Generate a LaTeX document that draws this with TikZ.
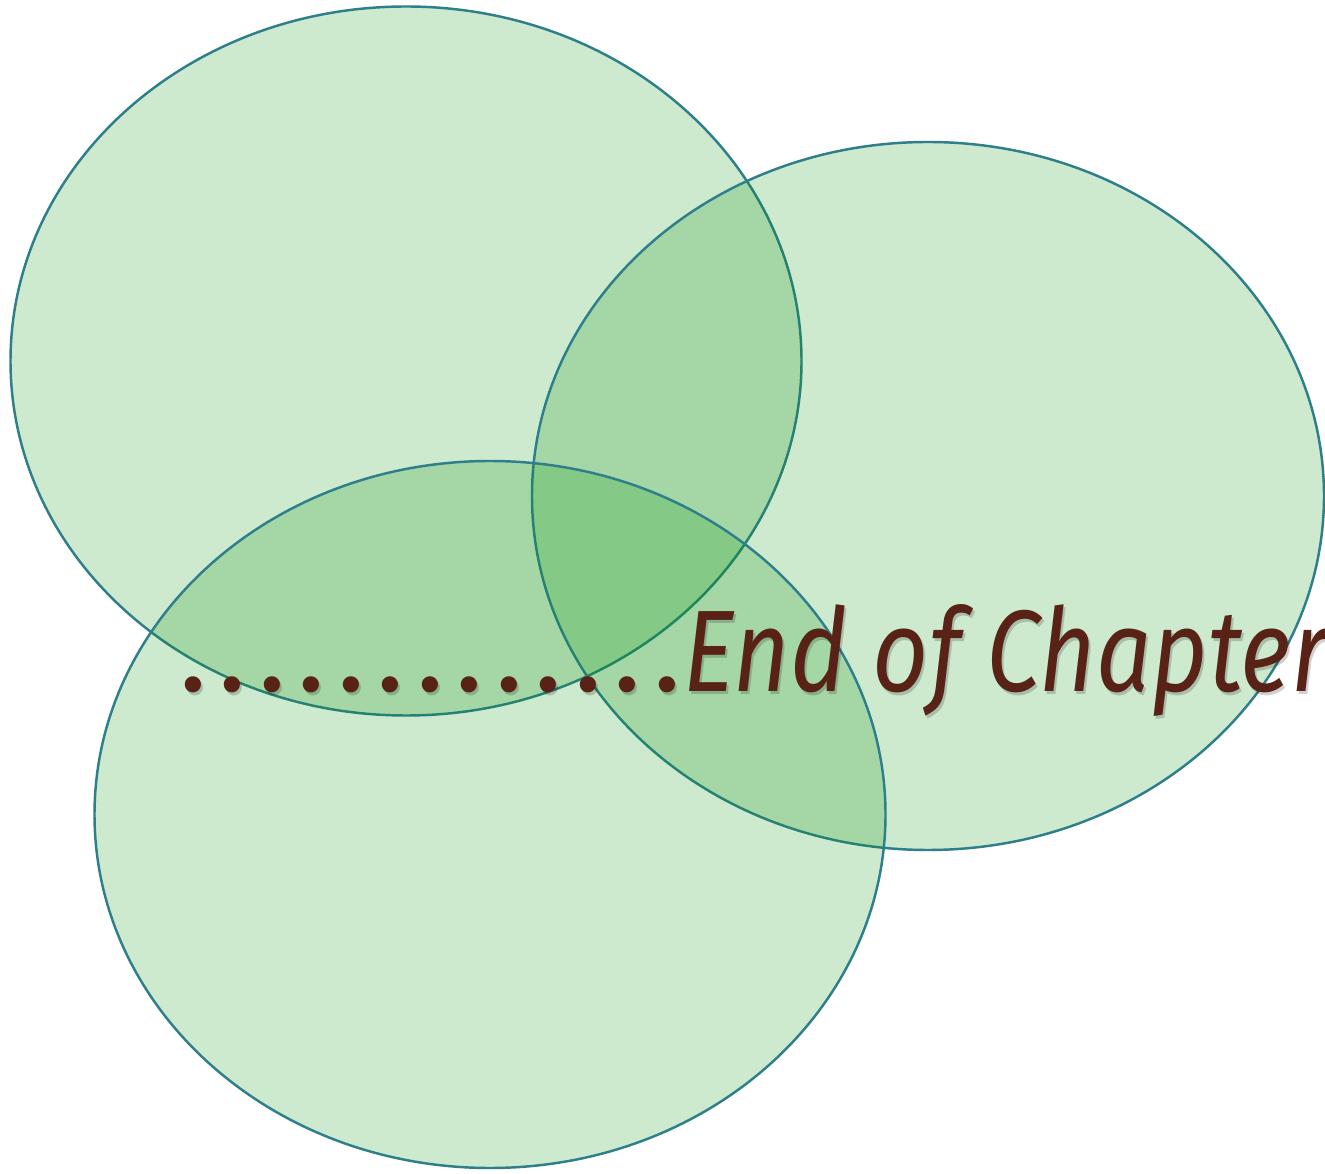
\documentclass[tikz,border=0pt]{standalone}
\usepackage{fontspec}
\usepackage{tikz}
\usetikzlibrary{positioning}
\newfontfamily\chapfont{Fira Sans}
\definecolor{vennfill}{RGB}{5,145,10}
\definecolor{vennline}{HTML}{2E7F8C}
\definecolor{chapbrown}{HTML}{582216}
\tikzset{
  vennset/.style={draw=vennline, line width=1.4pt, fill=vennfill,
    fill opacity=0.2, draw opacity=1},
  chaptext/.style={inner sep=0pt, anchor=base west, text=chapbrown,
    font=\chapfont\itshape\fontsize{66}{66}\selectfont, xscale=0.84},
  dotmark/.style={inner sep=0pt, anchor=base, text=chapbrown,
    font=\chapfont\fontsize{66}{66}\selectfont},
  ghost/.style={text=black, text opacity=0.18}
}
\begin{document}
\begin{tikzpicture}[x=1cm,y=1cm]
  \useasboundingbox (0,0) rectangle (26.5,23.46);
  \fill[white] (0,0) rectangle (26.5,23.46);
  % three sets
  \draw[vennset] (8.12,16.24) ellipse [x radius=7.91, y radius=7.09];
  \draw[vennset] (18.56,13.54) ellipse [x radius=7.92, y radius=7.08];
  \draw[vennset] (9.80,7.17) ellipse [x radius=7.91, y radius=7.07];
  % shadow, then text
  \foreach \i in {0,...,12} {
    \node[dotmark, ghost] at (3.90+0.79*\i,9.57) {.};
  }
  \node[chaptext, ghost] at (13.70,9.57) {End of Chapter};
  \foreach \i in {0,...,12} {
    \node[dotmark] (dot\i) at (3.86+0.79*\i,9.62) {.};
  }
  \node[chaptext] (title) at (13.66,9.62) {End of Chapter};
\end{tikzpicture}
\end{document}
